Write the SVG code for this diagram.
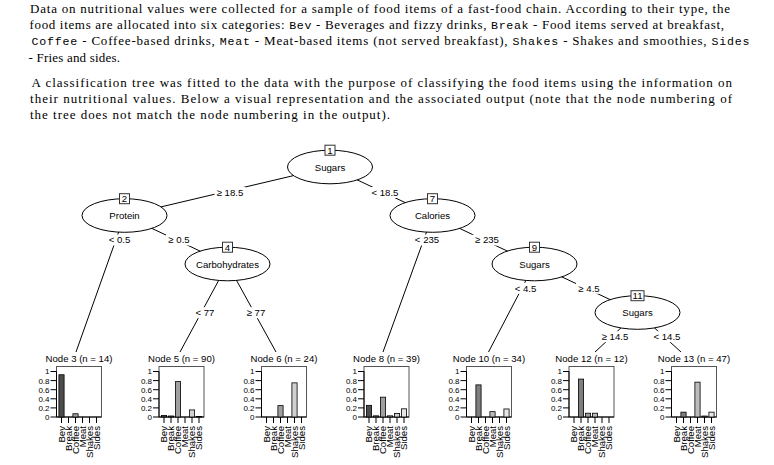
<svg xmlns="http://www.w3.org/2000/svg" xmlns:xlink="http://www.w3.org/1999/xlink" width="774" height="465" viewBox="0 0 774 465">
<style>
.p{font-family:"Liberation Serif","Times New Roman",serif;font-size:13px;fill:#000}
.tt{font-family:"Liberation Mono","Courier New",monospace;font-size:11.6px}
.s{font-family:"Liberation Sans",Arial,sans-serif;font-size:9.6px;fill:#000;text-anchor:middle}
.yl{font-family:"Liberation Sans",Arial,sans-serif;font-size:8px;fill:#000;text-anchor:end}
.xl{font-family:"Liberation Sans",Arial,sans-serif;font-size:9.6px;fill:#000;text-anchor:end}
.e{stroke:#000;stroke-width:1;fill:none}
.nd{fill:#fff;stroke:#000;stroke-width:1}
.idb{fill:#fff;stroke:#333;stroke-width:1}
.lb{fill:#fff;stroke:none}
.fr{fill:none;stroke:#555;stroke-width:1}
.ax{fill:none;stroke:#000;stroke-width:1}
.b{stroke:#000;stroke-width:0.8}
.c0{fill:#4d4d4d}.c1{fill:#7f7f7f}.c2{fill:#a0a0a0}.c3{fill:#bbbbbb}.c4{fill:#d1d1d1}.c5{fill:#e6e6e6}
</style>
<defs>
<g id="frame">
<rect class="fr" x="-22.5" y="366.5" width="45" height="50.5"/>
<path class="ax" d="M-22.5 371.5V417H22.5M-28.5 417H-22.5M-28.5 407.9H-22.5M-28.5 398.8H-22.5M-28.5 389.7H-22.5M-28.5 380.6H-22.5M-28.5 371.5H-22.5M-17.5 417V423M-10.5 417V423M-3.5 417V423M3.5 417V423M10.5 417V423M17.5 417V423"/>
</g>
</defs>
<rect width="774" height="465" fill="#fff"/>

<g id="intro">
<text class="p" x="30" y="13" textLength="700" lengthAdjust="spacing">Data on nutritional values were collected for a sample of food items of a fast-food chain. According to their type, the</text>
<text class="p" x="29.5" y="29.2" textLength="694.5" lengthAdjust="spacing">food items are allocated into six categories: <tspan class="tt">Bev</tspan> - Beverages and fizzy drinks, <tspan class="tt">Break</tspan> - Food items served at breakfast,</text>
<text class="p" x="31.5" y="45.4" textLength="718" lengthAdjust="spacing"><tspan class="tt">Coffee</tspan> - Coffee-based drinks, <tspan class="tt">Meat</tspan> - Meat-based items (not served breakfast), <tspan class="tt">Shakes</tspan> - Shakes and smoothies, <tspan class="tt">Sides</tspan></text>
<text class="p" x="28.5" y="61.6" textLength="91.5" lengthAdjust="spacing">- Fries and sides.</text>
<text class="p" x="31.5" y="87" textLength="700.5" lengthAdjust="spacing">A classification tree was fitted to the data with the purpose of classifying the food items using the information on</text>
<text class="p" x="30" y="103.2" textLength="702" lengthAdjust="spacing">their nutritional values.  Below a visual representation and the associated output (note that the node numbering of</text>
<text class="p" x="30" y="119.4" textLength="360" lengthAdjust="spacing">the tree does not match the node numbering in the output).</text>
</g>

<g id="connectors">
<path class="e" d="M330 167L124.5 215.5M330 167L432.5 215.5M124.5 215.5L76 352M124.5 215.5L227.5 264M227.5 264L180 352M227.5 264L276 352M432.5 215.5L383 352M432.5 215.5L534.5 264M534.5 264L488.5 352M534.5 264L637.5 312.5M637.5 312.5L595 352M637.5 312.5L681 352"/>
<rect class="lb" x="214.5" y="187" width="31" height="11"/><text class="s" x="230" y="195.9">≥ 18.5</text>
<rect class="lb" x="369.5" y="187" width="31" height="11"/><text class="s" x="385" y="195.9">&lt; 18.5</text>
<rect class="lb" x="106.5" y="234.5" width="26" height="11"/><text class="s" x="119.5" y="243.4">&lt; 0.5</text>
<rect class="lb" x="166" y="234.5" width="26" height="11"/><text class="s" x="179" y="243.4">≥ 0.5</text>
<rect class="lb" x="193" y="307.2" width="24" height="11"/><text class="s" x="205" y="316.1">&lt; 77</text>
<rect class="lb" x="244" y="307.2" width="24" height="11"/><text class="s" x="256" y="316.1">≥ 77</text>
<rect class="lb" x="412.5" y="234.5" width="29" height="11"/><text class="s" x="427" y="243.4">&lt; 235</text>
<rect class="lb" x="472.5" y="234.5" width="29" height="11"/><text class="s" x="487" y="243.4">≥ 235</text>
<rect class="lb" x="512.5" y="282.8" width="26" height="11"/><text class="s" x="525.5" y="291.7">&lt; 4.5</text>
<rect class="lb" x="576" y="282.8" width="26" height="11"/><text class="s" x="589" y="291.7">≥ 4.5</text>
<rect class="lb" x="599.5" y="331.2" width="31" height="11"/><text class="s" x="615" y="340.1">≥ 14.5</text>
<rect class="lb" x="651.5" y="331.2" width="31" height="11"/><text class="s" x="667" y="340.1">&lt; 14.5</text>
</g>

<g id="node1"><ellipse class="nd" cx="330" cy="167" rx="42.5" ry="16.8"/><text class="s" x="330" y="170.5">Sugars</text><rect class="idb" x="325" y="145.2" width="10" height="10"/><text class="s" x="330" y="153.7">1</text></g>
<g id="node2"><ellipse class="nd" cx="124.5" cy="215.5" rx="42.5" ry="16.8"/><text class="s" x="124.5" y="219">Protein</text><rect class="idb" x="119.5" y="193.7" width="10" height="10"/><text class="s" x="124.5" y="202.2">2</text></g>
<g id="node4"><ellipse class="nd" cx="227.5" cy="264" rx="42.5" ry="16.8"/><text class="s" x="227.5" y="267.5">Carbohydrates</text><rect class="idb" x="222.5" y="242.2" width="10" height="10"/><text class="s" x="227.5" y="250.7">4</text></g>
<g id="node7"><ellipse class="nd" cx="432.5" cy="215.5" rx="42.5" ry="16.8"/><text class="s" x="432.5" y="219">Calories</text><rect class="idb" x="427.5" y="193.7" width="10" height="10"/><text class="s" x="432.5" y="202.2">7</text></g>
<g id="node9"><ellipse class="nd" cx="534.5" cy="264" rx="42.5" ry="16.8"/><text class="s" x="534.5" y="267.5">Sugars</text><rect class="idb" x="529.5" y="242.2" width="10" height="10"/><text class="s" x="534.5" y="250.7">9</text></g>
<g id="node11"><ellipse class="nd" cx="637.5" cy="312.5" rx="42.5" ry="16.8"/><text class="s" x="637.5" y="316">Sugars</text><rect class="idb" x="631" y="290.7" width="13" height="10"/><text class="s" x="637.5" y="299.2">11</text></g>

<g id="node3" transform="translate(79,0)">
<text class="s" x="0" y="362">Node 3 (n = 14)</text>
<use xlink:href="#frame"/>
<rect class="b c0" x="-20.1" y="374.75" width="5.2" height="42.25"/>
<rect class="b c2" x="-6.1" y="413.75" width="5.2" height="3.25"/>
<text class="yl" x="-29.5" y="419.9">0</text><text class="yl" x="-29.5" y="410.8">0.2</text><text class="yl" x="-29.5" y="401.7">0.4</text><text class="yl" x="-29.5" y="392.6">0.6</text><text class="yl" x="-29.5" y="383.5">0.8</text><text class="yl" x="-29.5" y="374.4">1</text>
<text class="xl" dy="0.35em" transform="translate(-17.5,426) rotate(-90)">Bev</text><text class="xl" dy="0.35em" transform="translate(-10.5,426) rotate(-90)">Break</text><text class="xl" dy="0.35em" transform="translate(-3.5,426) rotate(-90)">Coffee</text><text class="xl" dy="0.35em" transform="translate(3.5,426) rotate(-90)">Meat</text><text class="xl" dy="0.35em" transform="translate(10.5,426) rotate(-90)">Shakes</text><text class="xl" dy="0.35em" transform="translate(17.5,426) rotate(-90)">Sides</text>
</g>

<g id="node5" transform="translate(181.5,0)">
<text class="s" x="0" y="362">Node 5 (n = 90)</text>
<use xlink:href="#frame"/>
<rect class="b c0" x="-20.1" y="415.48" width="5.2" height="1.52"/>
<rect class="b c1" x="-13.1" y="415.99" width="5.2" height="1.01"/>
<rect class="b c2" x="-6.1" y="381.61" width="5.2" height="35.39"/>
<rect class="b c4" x="7.9" y="409.92" width="5.2" height="7.08"/>
<rect class="b c5" x="14.9" y="416.49" width="5.2" height="0.51"/>
<text class="yl" x="-29.5" y="419.9">0</text><text class="yl" x="-29.5" y="410.8">0.2</text><text class="yl" x="-29.5" y="401.7">0.4</text><text class="yl" x="-29.5" y="392.6">0.6</text><text class="yl" x="-29.5" y="383.5">0.8</text><text class="yl" x="-29.5" y="374.4">1</text>
<text class="xl" dy="0.35em" transform="translate(-17.5,426) rotate(-90)">Bev</text><text class="xl" dy="0.35em" transform="translate(-10.5,426) rotate(-90)">Break</text><text class="xl" dy="0.35em" transform="translate(-3.5,426) rotate(-90)">Coffee</text><text class="xl" dy="0.35em" transform="translate(3.5,426) rotate(-90)">Meat</text><text class="xl" dy="0.35em" transform="translate(10.5,426) rotate(-90)">Shakes</text><text class="xl" dy="0.35em" transform="translate(17.5,426) rotate(-90)">Sides</text>
</g>

<g id="node6" transform="translate(284,0)">
<text class="s" x="0" y="362">Node 6 (n = 24)</text>
<use xlink:href="#frame"/>
<rect class="b c2" x="-6.1" y="405.62" width="5.2" height="11.38"/>
<rect class="b c4" x="7.9" y="382.87" width="5.2" height="34.13"/>
<text class="yl" x="-29.5" y="419.9">0</text><text class="yl" x="-29.5" y="410.8">0.2</text><text class="yl" x="-29.5" y="401.7">0.4</text><text class="yl" x="-29.5" y="392.6">0.6</text><text class="yl" x="-29.5" y="383.5">0.8</text><text class="yl" x="-29.5" y="374.4">1</text>
<text class="xl" dy="0.35em" transform="translate(-17.5,426) rotate(-90)">Bev</text><text class="xl" dy="0.35em" transform="translate(-10.5,426) rotate(-90)">Break</text><text class="xl" dy="0.35em" transform="translate(-3.5,426) rotate(-90)">Coffee</text><text class="xl" dy="0.35em" transform="translate(3.5,426) rotate(-90)">Meat</text><text class="xl" dy="0.35em" transform="translate(10.5,426) rotate(-90)">Shakes</text><text class="xl" dy="0.35em" transform="translate(17.5,426) rotate(-90)">Sides</text>
</g>

<g id="node8" transform="translate(386.5,0)">
<text class="s" x="0" y="362">Node 8 (n = 39)</text>
<use xlink:href="#frame"/>
<rect class="b c0" x="-20.1" y="405.33" width="5.2" height="11.67"/>
<rect class="b c1" x="-13.1" y="415.83" width="5.2" height="1.17"/>
<rect class="b c2" x="-6.1" y="397.17" width="5.2" height="19.83"/>
<rect class="b c3" x="0.9" y="415.83" width="5.2" height="1.17"/>
<rect class="b c4" x="7.9" y="413.5" width="5.2" height="3.5"/>
<rect class="b c5" x="14.9" y="408.83" width="5.2" height="8.17"/>
<text class="yl" x="-29.5" y="419.9">0</text><text class="yl" x="-29.5" y="410.8">0.2</text><text class="yl" x="-29.5" y="401.7">0.4</text><text class="yl" x="-29.5" y="392.6">0.6</text><text class="yl" x="-29.5" y="383.5">0.8</text><text class="yl" x="-29.5" y="374.4">1</text>
<text class="xl" dy="0.35em" transform="translate(-17.5,426) rotate(-90)">Bev</text><text class="xl" dy="0.35em" transform="translate(-10.5,426) rotate(-90)">Break</text><text class="xl" dy="0.35em" transform="translate(-3.5,426) rotate(-90)">Coffee</text><text class="xl" dy="0.35em" transform="translate(3.5,426) rotate(-90)">Meat</text><text class="xl" dy="0.35em" transform="translate(10.5,426) rotate(-90)">Shakes</text><text class="xl" dy="0.35em" transform="translate(17.5,426) rotate(-90)">Sides</text>
</g>

<g id="node10" transform="translate(489,0)">
<text class="s" x="0" y="362">Node 10 (n = 34)</text>
<use xlink:href="#frame"/>
<rect class="b c1" x="-13.1" y="384.88" width="5.2" height="32.12"/>
<rect class="b c3" x="0.9" y="411.65" width="5.2" height="5.35"/>
<rect class="b c5" x="14.9" y="408.97" width="5.2" height="8.03"/>
<text class="yl" x="-29.5" y="419.9">0</text><text class="yl" x="-29.5" y="410.8">0.2</text><text class="yl" x="-29.5" y="401.7">0.4</text><text class="yl" x="-29.5" y="392.6">0.6</text><text class="yl" x="-29.5" y="383.5">0.8</text><text class="yl" x="-29.5" y="374.4">1</text>
<text class="xl" dy="0.35em" transform="translate(-17.5,426) rotate(-90)">Bev</text><text class="xl" dy="0.35em" transform="translate(-10.5,426) rotate(-90)">Break</text><text class="xl" dy="0.35em" transform="translate(-3.5,426) rotate(-90)">Coffee</text><text class="xl" dy="0.35em" transform="translate(3.5,426) rotate(-90)">Meat</text><text class="xl" dy="0.35em" transform="translate(10.5,426) rotate(-90)">Shakes</text><text class="xl" dy="0.35em" transform="translate(17.5,426) rotate(-90)">Sides</text>
</g>

<g id="node12" transform="translate(591.5,0)">
<text class="s" x="0" y="362">Node 12 (n = 12)</text>
<use xlink:href="#frame"/>
<rect class="b c1" x="-13.1" y="379.08" width="5.2" height="37.92"/>
<rect class="b c2" x="-6.1" y="413.21" width="5.2" height="3.79"/>
<rect class="b c3" x="0.9" y="413.21" width="5.2" height="3.79"/>
<text class="yl" x="-29.5" y="419.9">0</text><text class="yl" x="-29.5" y="410.8">0.2</text><text class="yl" x="-29.5" y="401.7">0.4</text><text class="yl" x="-29.5" y="392.6">0.6</text><text class="yl" x="-29.5" y="383.5">0.8</text><text class="yl" x="-29.5" y="374.4">1</text>
<text class="xl" dy="0.35em" transform="translate(-17.5,426) rotate(-90)">Bev</text><text class="xl" dy="0.35em" transform="translate(-10.5,426) rotate(-90)">Break</text><text class="xl" dy="0.35em" transform="translate(-3.5,426) rotate(-90)">Coffee</text><text class="xl" dy="0.35em" transform="translate(3.5,426) rotate(-90)">Meat</text><text class="xl" dy="0.35em" transform="translate(10.5,426) rotate(-90)">Shakes</text><text class="xl" dy="0.35em" transform="translate(17.5,426) rotate(-90)">Sides</text>
</g>

<g id="node13" transform="translate(694,0)">
<text class="s" x="0" y="362">Node 13 (n = 47)</text>
<use xlink:href="#frame"/>
<rect class="b c1" x="-13.1" y="412.16" width="5.2" height="4.84"/>
<rect class="b c3" x="0.9" y="382.15" width="5.2" height="34.85"/>
<rect class="b c4" x="7.9" y="416.03" width="5.2" height="0.97"/>
<rect class="b c5" x="14.9" y="412.16" width="5.2" height="4.84"/>
<text class="yl" x="-29.5" y="419.9">0</text><text class="yl" x="-29.5" y="410.8">0.2</text><text class="yl" x="-29.5" y="401.7">0.4</text><text class="yl" x="-29.5" y="392.6">0.6</text><text class="yl" x="-29.5" y="383.5">0.8</text><text class="yl" x="-29.5" y="374.4">1</text>
<text class="xl" dy="0.35em" transform="translate(-17.5,426) rotate(-90)">Bev</text><text class="xl" dy="0.35em" transform="translate(-10.5,426) rotate(-90)">Break</text><text class="xl" dy="0.35em" transform="translate(-3.5,426) rotate(-90)">Coffee</text><text class="xl" dy="0.35em" transform="translate(3.5,426) rotate(-90)">Meat</text><text class="xl" dy="0.35em" transform="translate(10.5,426) rotate(-90)">Shakes</text><text class="xl" dy="0.35em" transform="translate(17.5,426) rotate(-90)">Sides</text>
</g>
</svg>
